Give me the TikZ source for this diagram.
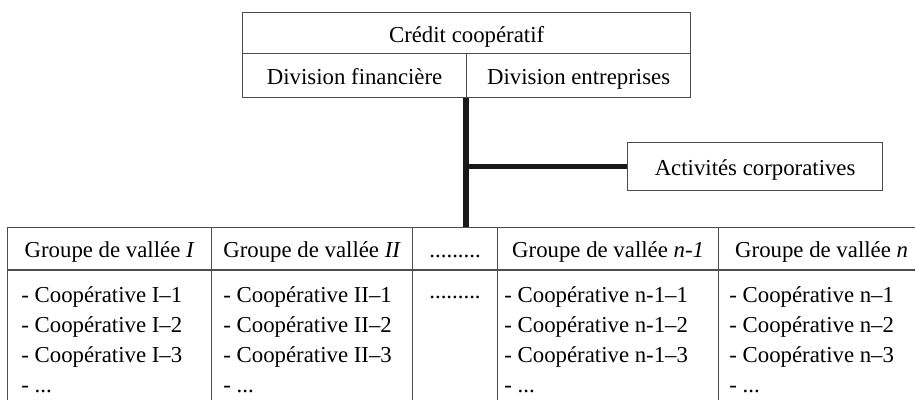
\documentclass[tikz,border=0pt]{standalone}
\usepackage{fontspec}
\setmainfont{Liberation Serif}
\begin{document}
\begin{tikzpicture}[x=0.5pt,y=-0.5pt,
    every node/.style={font=\fontsize{11.4}{15}\selectfont},
    box/.style={draw=black!70,line width=0.6pt,rectangle,inner sep=0pt,anchor=north west,text height=1em,text depth=0.08em},
    colbox/.style={draw=black!70,line width=0.6pt,rectangle,inner sep=0pt,anchor=north west,minimum height=76pt},
    list/.style={align=left,inner sep=0pt,anchor=north west},
    bar/.style={line width=2.6pt,black!90}]
  \useasboundingbox (0,0) rectangle (915,400);
  % top block
  \node[box,minimum width=224pt,minimum height=20.5pt] (credit) at (242,12) {Crédit coopératif};
  \node[box,minimum width=112pt,minimum height=22pt] (fin) at (242,53) {Division financière};
  \node[box,minimum width=112pt,minimum height=22pt] (ent) at (466,53) {Division entreprises};
  \node[box,minimum width=127.5pt,minimum height=24pt] (activ) at (627,142) {Activités corporatives};
  % group headers
  \node[box,minimum width=102pt,minimum height=21pt] (g1) at (7,227) {Groupe de vallée \textit{I}};
  \node[box,minimum width=100.5pt,minimum height=21pt] (g2) at (211,227) {Groupe de vallée \textit{II}};
  \node[box,minimum width=42.5pt,minimum height=21pt] (gd) at (412,227) {.........};
  \node[box,minimum width=110.5pt,minimum height=21pt] (gn1) at (497,227) {Groupe de vallée \textit{n-1}};
  \node[box,minimum width=103pt,minimum height=21pt] (gn) at (718,227) {Groupe de vallée \textit{n}};
  % group columns
  \node[colbox,minimum width=102pt] (b1) at (g1.south west) {};
  \node[colbox,minimum width=100.5pt] (b2) at (g2.south west) {};
  \node[colbox,minimum width=42.5pt] (bd) at (gd.south west) {};
  \node[colbox,minimum width=110.5pt] (bn1) at (gn1.south west) {};
  \node[colbox,minimum width=103pt] (bn) at (gn.south west) {};
  \node[list] (t1) at ([shift={(14,16)}]b1.north west) {- Coopérative I–1\\- Coopérative I–2\\- Coopérative I–3\\- ...};
  \node[list] (t2) at ([shift={(12,16)}]b2.north west) {- Coopérative II–1\\- Coopérative II–2\\- Coopérative II–3\\- ...};
  \node[anchor=base,inner sep=0pt] (td) at (455,299) {.........};
  \node[list] (tn1) at ([shift={(7,16)}]bn1.north west) {- Coopérative n-1–1\\- Coopérative n-1–2\\- Coopérative n-1–3\\- ...};
  \node[list] (tn) at ([shift={(11,16)}]bn.north west) {- Coopérative n–1\\- Coopérative n–2\\- Coopérative n–3\\- ...};
  % links
  \draw[bar] (ent.south west) -- (ent.south west |- gd.north);
  \draw[bar] (ent.south west |- activ.west) -- (activ.west);
\end{tikzpicture}
\end{document}
